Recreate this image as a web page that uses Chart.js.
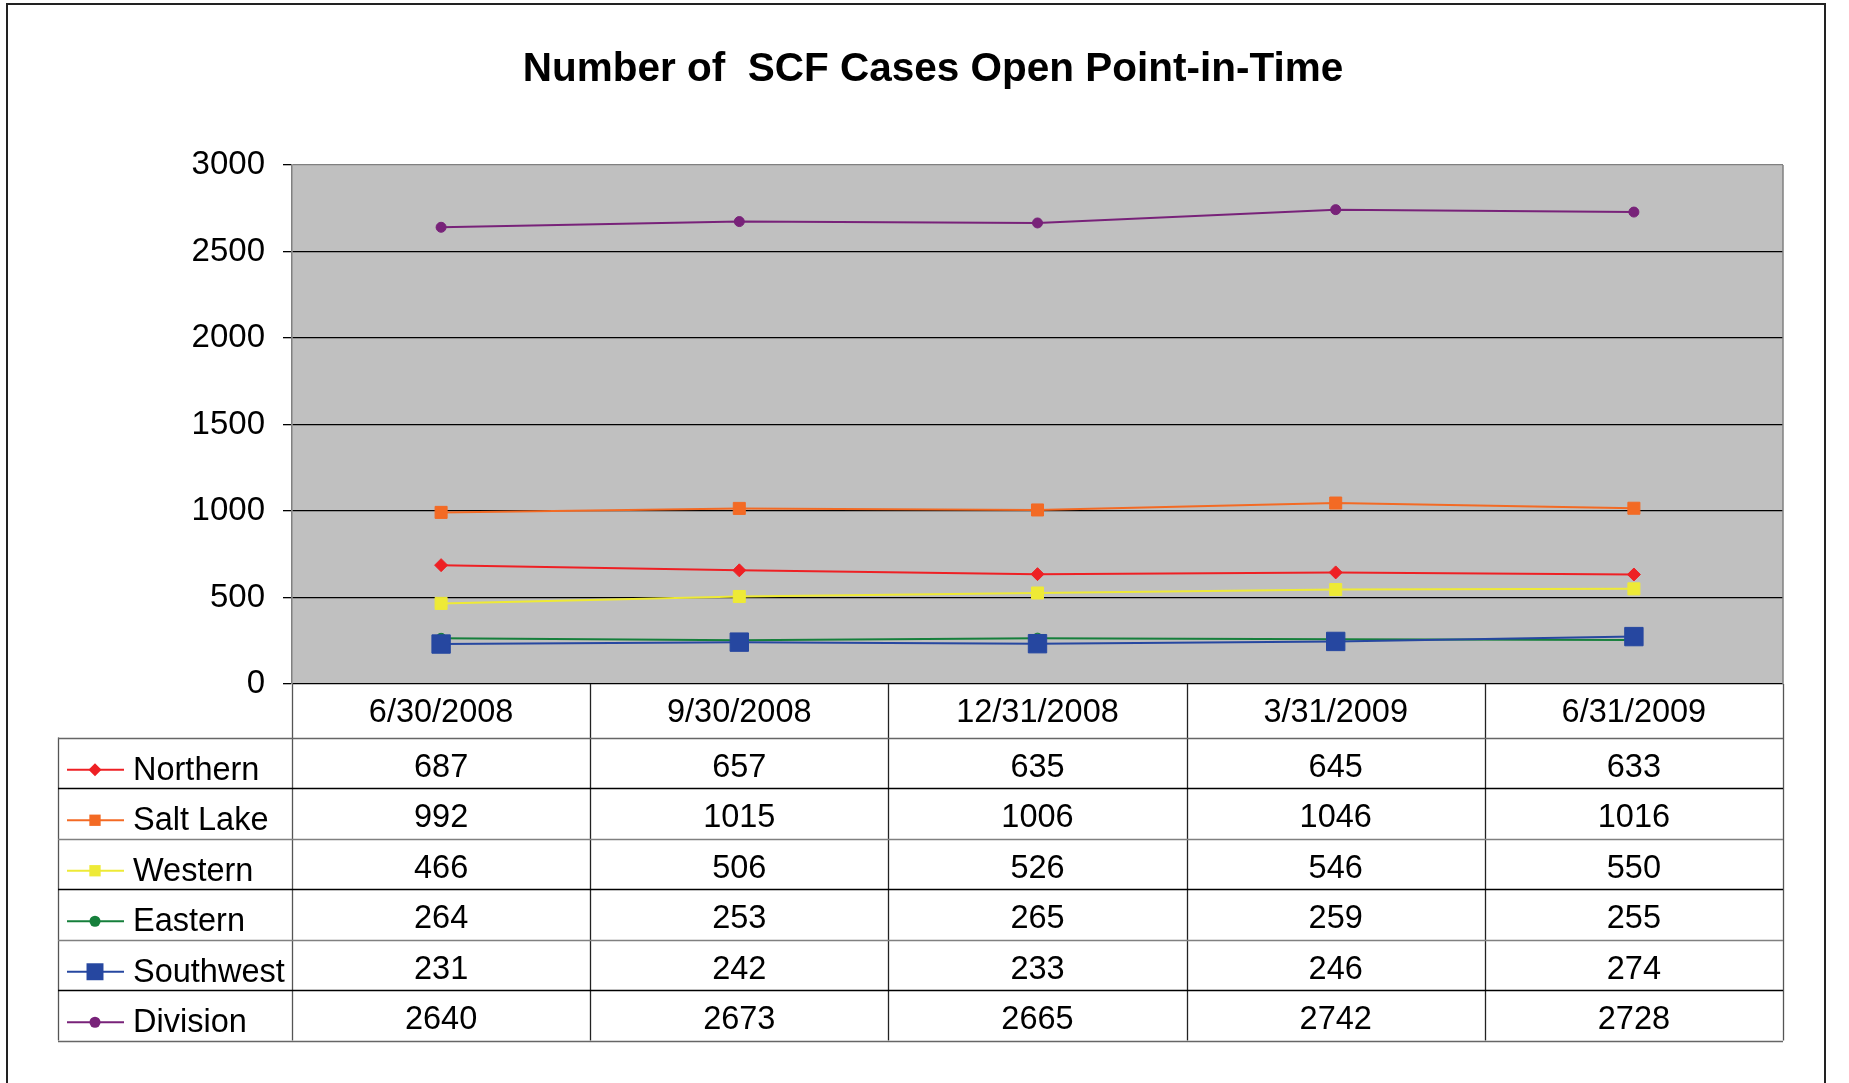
<!DOCTYPE html>
<html><head><meta charset="utf-8">
<script src="https://cdn.jsdelivr.net/npm/chart.js@4/dist/chart.umd.min.js"></script>
<style>html,body{margin:0;padding:0;background:#fff;} #wrap{width:1849px;height:1083px;position:relative;}</style>
</head><body><div id="wrap"><canvas id="c" width="1849" height="1083"></canvas></div>
<script>
// ---- data ----
const categories = ['6/30/2008', '9/30/2008', '12/31/2008', '3/31/2009', '6/31/2009'];
const seriesNames = ['Northern', 'Salt Lake', 'Western', 'Eastern', 'Southwest', 'Division'];
const northern  = [687, 657, 635, 645, 633];
const saltLake  = [992, 1015, 1006, 1046, 1016];
const western   = [466, 506, 526, 546, 550];
const eastern   = [264, 253, 265, 259, 255];
const southwest = [231, 242, 233, 246, 274];
const division  = [2640, 2673, 2665, 2742, 2728];
const seriesValues = [northern, saltLake, western, eastern, southwest, division];
const titleText = 'Number of  SCF Cases Open Point-in-Time';

// ---- styles ----
const FONT = '"Liberation Sans", Arial, sans-serif';
const seriesColors = ['#EE2024', '#F36A24', '#EEEA36', '#157F3B', '#2647A0', '#782279'];
const seriesStyles = ['rectRot', 'rect', 'rect', 'circle', 'rect', 'circle'];
const seriesRadius = [6.5, 8.5, 8.5, 5, 13, 5];
const legendRadius = [6.5, 8, 8, 5.5, 12, 5.5];

function drawMarker(ctx, style, r, x, y) {
  ctx.beginPath();
  if (style === 'circle') {
    ctx.arc(x, y, r, 0, Math.PI * 2);
  } else if (style === 'rectRot') {
    ctx.moveTo(x - r, y); ctx.lineTo(x, y - r); ctx.lineTo(x + r, y); ctx.lineTo(x, y + r); ctx.closePath();
  } else {
    const s = r * Math.SQRT1_2;
    ctx.rect(x - s, y - s, 2 * s, 2 * s);
  }
  ctx.fill();
}

const bgPlugin = {
  id: 'bg',
  beforeDraw(chart) {
    const ctx = chart.ctx, a = chart.chartArea;
    ctx.save();
    ctx.fillStyle = '#fff';
    ctx.fillRect(0, 0, chart.width, chart.height);
    ctx.strokeStyle = '#222';
    ctx.lineWidth = 2;
    ctx.beginPath();
    ctx.moveTo(7, chart.height + 5); ctx.lineTo(7, 4); ctx.lineTo(1825, 4); ctx.lineTo(1825, chart.height + 5);
    ctx.stroke();
    ctx.fillStyle = '#C0C0C0';
    ctx.fillRect(a.left, a.top, a.right - a.left, a.bottom - a.top);
    ctx.restore();
  },
  afterDraw(chart) {
    const ctx = chart.ctx, a = chart.chartArea, xs = chart.scales.x;
    const n = categories.length;
    const step = (a.right - a.left) / n;
    const catTop = a.bottom, catBottom = 737.5, rowH = 50.5, tableLeft = 58;
    const tableBottom = catBottom + rowH * seriesNames.length;
    ctx.save();
    // right plot border
    ctx.strokeStyle = '#808080'; ctx.lineWidth = 1.5;
    ctx.beginPath(); ctx.moveTo(a.right, a.top); ctx.lineTo(a.right, a.bottom); ctx.stroke();
    ctx.lineWidth = 1.3;
    // vertical column dividers
    for (let i = 0; i <= n; i++) {
      const x = Math.round(a.left + step * i) + 0.5;
      ctx.strokeStyle = (i === 0 || i === n) ? '#555' : '#222';
      ctx.beginPath(); ctx.moveTo(x, catTop); ctx.lineTo(x, tableBottom); ctx.stroke();
    }
    // table left border
    ctx.strokeStyle = '#555';
    ctx.beginPath(); ctx.moveTo(tableLeft + 0.5, catBottom); ctx.lineTo(tableLeft + 0.5, tableBottom); ctx.stroke();
    // horizontal lines
    for (let r = 0; r <= seriesNames.length; r++) {
      const y = Math.round(catBottom + rowH * r) + 0.5;
      ctx.strokeStyle = (r === 0 || r === seriesNames.length) ? '#666' : (r % 2 === 1 ? '#000' : '#808080');
      ctx.beginPath(); ctx.moveTo(tableLeft, y); ctx.lineTo(a.right, y); ctx.stroke();
    }
    // category labels
    ctx.fillStyle = '#000';
    ctx.font = '32.5px ' + FONT;
    ctx.textAlign = 'center';
    ctx.textBaseline = 'middle';
    categories.forEach((c, i) => ctx.fillText(c, xs.getPixelForValue(i), (catTop + catBottom) / 2 + 2));
    // rows
    seriesNames.forEach((name, r) => {
      const cy = catBottom + rowH * r + rowH / 2 + 5;
      ctx.fillStyle = '#000';
      ctx.textAlign = 'center';
      seriesValues[r].forEach((v, i) => ctx.fillText(String(v), xs.getPixelForValue(i), cy));
      // legend key
      const ky = cy + 2;
      ctx.strokeStyle = seriesColors[r]; ctx.lineWidth = 2;
      ctx.beginPath(); ctx.moveTo(67, ky); ctx.lineTo(124, ky); ctx.stroke();
      ctx.fillStyle = seriesColors[r];
      drawMarker(ctx, seriesStyles[r], legendRadius[r], 95, ky);
      ctx.fillStyle = '#000';
      ctx.textAlign = 'left';
      ctx.fillText(name, 133, cy + 3);
    });
    ctx.restore();
  }
};

const datasets = seriesNames.map((name, i) => ({
  label: name,
  data: seriesValues[i],
  borderColor: seriesColors[i],
  backgroundColor: seriesColors[i],
  pointBackgroundColor: seriesColors[i],
  pointBorderColor: seriesColors[i],
  pointBorderWidth: 1,
  pointStyle: seriesStyles[i],
  pointRadius: seriesRadius[i],
  borderWidth: 2,
  tension: 0,
  fill: false,
  order: seriesNames.length - 1 - i
}));

new Chart(document.getElementById('c'), {
  type: 'line',
  data: { labels: categories, datasets },
  plugins: [bgPlugin],
  options: {
    responsive: false,
    animation: false,
    devicePixelRatio: 1,
    layout: { padding: { left: 83, right: 66, top: 0, bottom: 399 } },
    plugins: {
      legend: { display: false },
      tooltip: { enabled: false },
      title: {
        display: true,
        text: titleText,
        color: '#000',
        font: { family: FONT, size: 40.5, weight: 'bold', lineHeight: 1.2 },
        padding: { top: 46, bottom: 70.4 }
      }
    },
    scales: {
      x: { type: 'category', offset: true, display: false },
      y: {
        min: 0, max: 3000,
        ticks: { stepSize: 500, color: '#000', font: { family: FONT, size: 33 }, padding: 18,
                 callback: (v) => String(v) },
        grid: {
          color: (c) => (c.tick && c.tick.value === 3000) ? '#808080' : '#000',
          tickColor: '#000',
          lineWidth: 1.3,
          tickLength: 9
        },
        border: { display: true, color: '#808080', width: 1.5 },
        afterFit(scale) { scale.width = 209; }
      }
    }
  }
});
</script>
</body></html>
